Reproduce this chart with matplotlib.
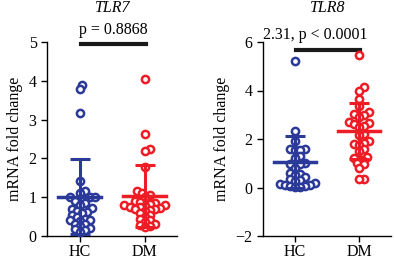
import numpy as np
import matplotlib
matplotlib.use("Agg")
import matplotlib.pyplot as plt

plt.rcParams["font.family"] = ["Liberation Serif", "DejaVu Serif"]
plt.rcParams["font.size"] = 11

BLUE = "#2b3a98"
RED = "#ee1c25"
GROUPS = ["HC", "DM"]

# TLR7 values
tlr7_hc = [3.9, 3.78, 3.17, 1.43, 1.15, 1.12, 1.0, 1.0, 1.0, 0.98, 0.95, 0.9, 0.85,
           0.8, 0.72, 0.7, 0.65, 0.62, 0.6, 0.55, 0.5, 0.45, 0.42, 0.4, 0.38, 0.32,
           0.3, 0.25, 0.2, 0.18, 0.15, 0.1]
tlr7_dm = [4.05, 2.62, 2.25, 2.18, 1.78, 1.15, 1.12, 1.05, 1.0, 0.9, 0.88, 0.85,
           0.82, 0.8, 0.8, 0.78, 0.75, 0.75, 0.72, 0.7, 0.7, 0.68, 0.65, 0.6, 0.55,
           0.5, 0.45, 0.42, 0.35, 0.3, 0.28, 0.25, 0.22]
tlr7_mean = [1.01, 1.04]
tlr7_sd = [0.97, 0.80]

# TLR8 values
tlr8_hc = [5.22, 2.35, 1.9, 1.6, 1.58, 1.55, 1.55, 1.3, 1.2, 1.0, 0.95, 0.95, 0.8,
           0.6, 0.55, 0.5, 0.45, 0.35, 0.3, 0.25, 0.2, 0.15, 0.12, 0.1, 0.08, 0.05,
           0.03, 0.02]
tlr8_dm = [5.45, 4.15, 4.0, 3.65, 3.35, 3.1, 3.05, 3.0, 2.9, 2.7, 2.65, 2.6, 2.55,
           2.5, 2.2, 2.15, 1.9, 1.85, 1.8, 1.75, 1.6, 1.5, 1.25, 1.2, 1.15, 1.0,
           0.95, 0.8, 0.35, 0.35]
tlr8_mean = [1.04, 2.33]
tlr8_sd = [1.07, 1.15]


def swarm(vals, px_per_y, px_per_x, d=5.0, wmax=20.0):
    """beeswarm with a width cap; beyond the cap points may overlap."""
    ys = np.asarray(vals) * px_per_y
    order = np.argsort(ys)
    placed = []
    offs = np.zeros(len(ys))
    cands = [0.0]
    step = d * 0.5
    k = 1
    while k * step <= wmax:
        cands += [k * step, -k * step]
        k += 1
    for i in order:
        y = ys[i]
        best, best_gap = 0.0, -1
        for c in cands:
            gap = min([np.hypot(c - px, y - py) for px, py in placed] or [99])
            if gap >= d:
                best = c
                break
            if gap > best_gap:
                best, best_gap = c, gap
        placed.append((best, y))
        offs[i] = best / px_per_x
    return offs


def panel(ax, data, means, sds, ylim, yticks, ptext, bar_y, text_xy, text_ha):
    ax.set_xlim(-0.5, 1.5)
    ax.set_ylim(*ylim)
    bbox = ax.get_window_extent()
    px_y = bbox.height / (ylim[1] - ylim[0])
    px_x = bbox.width / 2.0
    for i, (vals, col) in enumerate(zip(data, [BLUE, RED])):
        xo = swarm(vals, px_y, px_x)
        ax.plot(i + xo, vals, "o", ms=5.2, mfc="white", mec=col, mew=1.8,
                ls="none", clip_on=False, zorder=3)
        ax.plot([i - 0.33, i + 0.33], [means[i]] * 2, color=col, lw=2.5, zorder=4)
        ax.errorbar(i, means[i], yerr=sds[i], color=col, lw=2.2, capsize=7,
                    capthick=2.2, zorder=4)
    ax.plot([0.02, 1.02], [bar_y, bar_y], color="#1a1a1a", lw=3, clip_on=False)
    ax.text(text_xy[0], text_xy[1], ptext, ha=text_ha, va="center", fontsize=11.5,
            clip_on=False)
    ax.set_xticks([0, 1])
    ax.set_xticklabels(GROUPS, fontsize=11.5)
    ax.set_yticks(yticks)
    ax.tick_params(labelsize=11.5, length=4, width=1, direction="out")
    ax.tick_params(axis="x", pad=2)
    ax.set_ylabel("mRNA fold change", fontsize=11.5, labelpad=4)
    for s in ["top", "right"]:
        ax.spines[s].set_visible(False)
    ax.spines["left"].set_linewidth(1)
    ax.spines["bottom"].set_linewidth(1)


fig = plt.figure(figsize=(3.94, 2.59), dpi=100)
ax1 = fig.add_axes([47 / 394, 1 - 236 / 259, 130 / 394, 194 / 259])
ax2 = fig.add_axes([263 / 394, 1 - 236 / 259, 128 / 394, 194 / 259])

panel(ax1, [tlr7_hc, tlr7_dm], tlr7_mean, tlr7_sd, (0, 5), [0, 1, 2, 3, 4, 5],
      "p = 0.8868", 4.95, (0.52, 5.3), "center")
panel(ax2, [tlr8_hc, tlr8_dm], tlr8_mean, tlr8_sd, (-2, 6), [-2, 0, 2, 4, 6],
      "2.31, p < 0.0001", 5.69, (-0.5, 6.27), "left")

fig.text(113 / 394, 1 - 8 / 259, "TLR7", style="italic", ha="center", va="center",
         fontsize=11.5)
fig.text(328 / 394, 1 - 8 / 259, "TLR8", style="italic", ha="center", va="center",
         fontsize=11.5)

fig.savefig("out.png", dpi=100)
